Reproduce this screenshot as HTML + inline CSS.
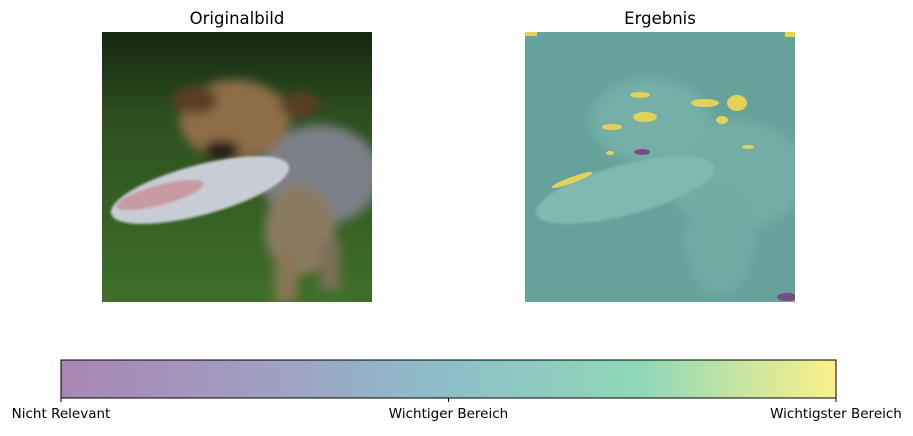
<!DOCTYPE html>
<html><head><meta charset="utf-8">
<style>
body{margin:0;background:#fff;width:913px;height:432px;overflow:hidden;font-family:"DejaVu Sans","Liberation Sans",sans-serif;}
svg text{font-family:"DejaVu Sans","Liberation Sans",sans-serif;}
</style></head>
<body>
<svg id="fig" width="913" height="432" viewBox="0 0 913 432">
<defs>
<linearGradient id="grass" x1="0" y1="0" x2="0" y2="1">
<stop offset="0" stop-color="#15260f"/><stop offset="0.3" stop-color="#2c4e20"/><stop offset="1" stop-color="#3f7028"/>
</linearGradient>
<linearGradient id="cbar" x1="0" y1="0" x2="1" y2="0">
<stop offset="0" stop-color="#a886b4"/><stop offset="0.25" stop-color="#a29dc2"/><stop offset="0.5" stop-color="#8cbfc8"/><stop offset="0.75" stop-color="#90d8b8"/><stop offset="1" stop-color="#fbf18a"/>
</linearGradient>
<filter id="blur"><feGaussianBlur stdDeviation="5"/></filter>
<filter id="blur2"><feGaussianBlur stdDeviation="1.2"/></filter>
<clipPath id="cl"><rect x="102" y="32" width="270" height="270"/></clipPath>
<clipPath id="cr"><rect x="525" y="32" width="270" height="270"/></clipPath>
</defs>

<text x="237" y="24" font-size="16.5" text-anchor="middle" fill="#000">Originalbild</text>
<text x="660" y="24" font-size="16.5" text-anchor="middle" fill="#000">Ergebnis</text>

<g clip-path="url(#cl)">
<rect x="102" y="32" width="270" height="270" fill="url(#grass)"/>
<g filter="url(#blur)">
<ellipse cx="320" cy="175" rx="60" ry="50" fill="#7d7f88"/>
<ellipse cx="300" cy="230" rx="35" ry="45" fill="#8a7a62"/>
<ellipse cx="235" cy="120" rx="55" ry="40" fill="#8e6e48"/>
<ellipse cx="195" cy="100" rx="22" ry="14" fill="#5a3c22"/>
<ellipse cx="300" cy="105" rx="20" ry="13" fill="#5a3c22"/>
<ellipse cx="222" cy="150" rx="18" ry="10" fill="#2a1d14"/>
<rect x="275" y="250" width="22" height="52" fill="#8a7656"/>
<rect x="320" y="240" width="20" height="50" fill="#7c6e58"/>
</g>
<g filter="url(#blur2)">
<ellipse cx="200" cy="190" rx="92" ry="25" transform="rotate(-15 200 190)" fill="#c8ccd4"/>
<ellipse cx="160" cy="195" rx="45" ry="10" transform="rotate(-15 160 195)" fill="#c87880" opacity="0.6"/>
</g>
</g>

<g clip-path="url(#cr)">
<rect x="525" y="32" width="270" height="270" fill="#65a29b"/>
<g filter="url(#blur)">
<ellipse cx="735" cy="175" rx="70" ry="55" fill="#72aea6"/>
<ellipse cx="720" cy="240" rx="35" ry="55" fill="#70aba4"/>
<ellipse cx="650" cy="120" rx="60" ry="42" fill="#74afa8"/>
</g>
<ellipse cx="625" cy="190" rx="92" ry="25" transform="rotate(-15 625 190)" fill="#80b9b2" filter="url(#blur2)"/>
<g fill="#e2d25a">
<ellipse cx="645" cy="117" rx="12" ry="5"/><ellipse cx="612" cy="127" rx="10" ry="3"/>
<ellipse cx="640" cy="95" rx="10" ry="3"/><ellipse cx="705" cy="103" rx="14" ry="4"/>
<ellipse cx="737" cy="103" rx="10" ry="8"/><ellipse cx="722" cy="120" rx="6" ry="4"/>
<ellipse cx="572" cy="180" rx="22" ry="3" transform="rotate(-20 572 180)"/>
<ellipse cx="748" cy="147" rx="6" ry="2"/><ellipse cx="610" cy="153" rx="4" ry="2"/>
<rect x="525" y="32" width="12" height="4"/><rect x="785" y="32" width="10" height="5"/>
</g>
<ellipse cx="642" cy="152" rx="8" ry="3" fill="#7a4a80"/>
<ellipse cx="787" cy="297" rx="10" ry="4" fill="#7a4a80"/>
</g>

<g>
<rect x="61" y="360" width="775" height="38" fill="url(#cbar)" stroke="#000" stroke-width="1"/>
<g id="ticks"></g>
</g>
<script>
const tickLabels=["Nicht Relevant","Wichtiger Bereich","Wichtigster Bereich"];
const tickValues=[0,0.5,1];
const g=document.getElementById('ticks');
const x0=61,x1=836;
tickValues.forEach((v,i)=>{
 const x=x0+(x1-x0)*v;
 const l=document.createElementNS('http://www.w3.org/2000/svg','line');
 l.setAttribute('x1',x);l.setAttribute('x2',x);l.setAttribute('y1',398);l.setAttribute('y2',402);l.setAttribute('stroke','#000');
 
 
 g.appendChild(l);
 const t=document.createElementNS('http://www.w3.org/2000/svg','text');
 t.setAttribute('x',x);t.setAttribute('y',418);t.setAttribute('font-size','13.5');t.setAttribute('text-anchor','middle');
 t.textContent=tickLabels[i];
 
 
 g.appendChild(t);
});
</script>
</svg>
</body></html>
